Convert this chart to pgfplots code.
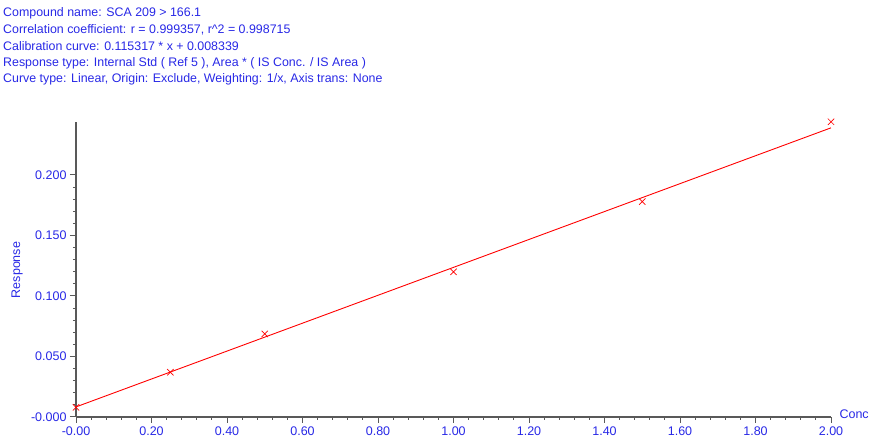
\documentclass[border=0pt]{standalone}
\usepackage{pgfplots}
\pgfplotsset{compat=1.18}
\usepackage{fontspec}
\setmainfont{Liberation Sans}
\definecolor{tb}{RGB}{40,40,230}
\begin{document}
\begin{tikzpicture}
\useasboundingbox (0pt,0pt) rectangle (871pt,436pt);
\foreach \t [count=\i] in {Compound name: SCA 209 > 166.1,Correlation coefficient: r = 0.999357{,} r\textasciicircum2 = 0.998715,Calibration curve: 0.115317 * x + 0.008339,Response type: Internal Std ( Ref 5 ){,} Area * ( IS Conc. / IS Area ),Curve type: Linear{,} Origin: Exclude{,} Weighting: 1/x{,} Axis trans: None}
  \node[anchor=west,text=tb,font=\fontsize{12.4}{13}\selectfont,inner sep=0] at (3pt,{(436-13-16.7*\i+16.7)*1pt}) {\t};
\begin{axis}[at={(76pt,19pt)},anchor=south west,scale only axis,width=755pt,height=295pt,
  xmin=0,xmax=2,ymin=0,ymax=0.2438,
  axis x line=bottom, axis y line=left, axis line style={gray!70!black,-,line width=1.2pt},
  xtick={0,0.2,...,2.01}, ytick={0,0.05,...,0.21},
  minor x tick num=4, minor y tick num=4,
  tick style={gray!70!black,line width=1pt}, major tick length=6pt, minor tick length=3pt,
  tick align=outside,
  xticklabels={-0.00,0.20,0.40,0.60,0.80,1.00,1.20,1.40,1.60,1.80,2.00},
  yticklabels={-0.000,0.050,0.100,0.150,0.200},
  ticklabel style={text=tb,font=\fontsize{12.5}{13}\selectfont},
  /pgf/number format/assume math mode=true,
  clip=false]
\addplot[red,line width=0.9pt] coordinates {(0,0.008339) (2,0.238973)};
\addplot[red,only marks,mark=x,mark size=4.5pt,mark options={line width=0.7pt}] coordinates {(0,0.008) (0.25,0.037) (0.5,0.0686) (1.0,0.120) (1.5,0.178) (2.0,0.244)};
\end{axis}
\node[text=tb,font=\fontsize{12.5}{13}\selectfont,rotate=90] at (17pt,166pt) {Response};
\node[text=tb,font=\fontsize{12.5}{13}\selectfont,anchor=west] at (836pt,22pt) {Conc};
\end{tikzpicture}
\end{document}
